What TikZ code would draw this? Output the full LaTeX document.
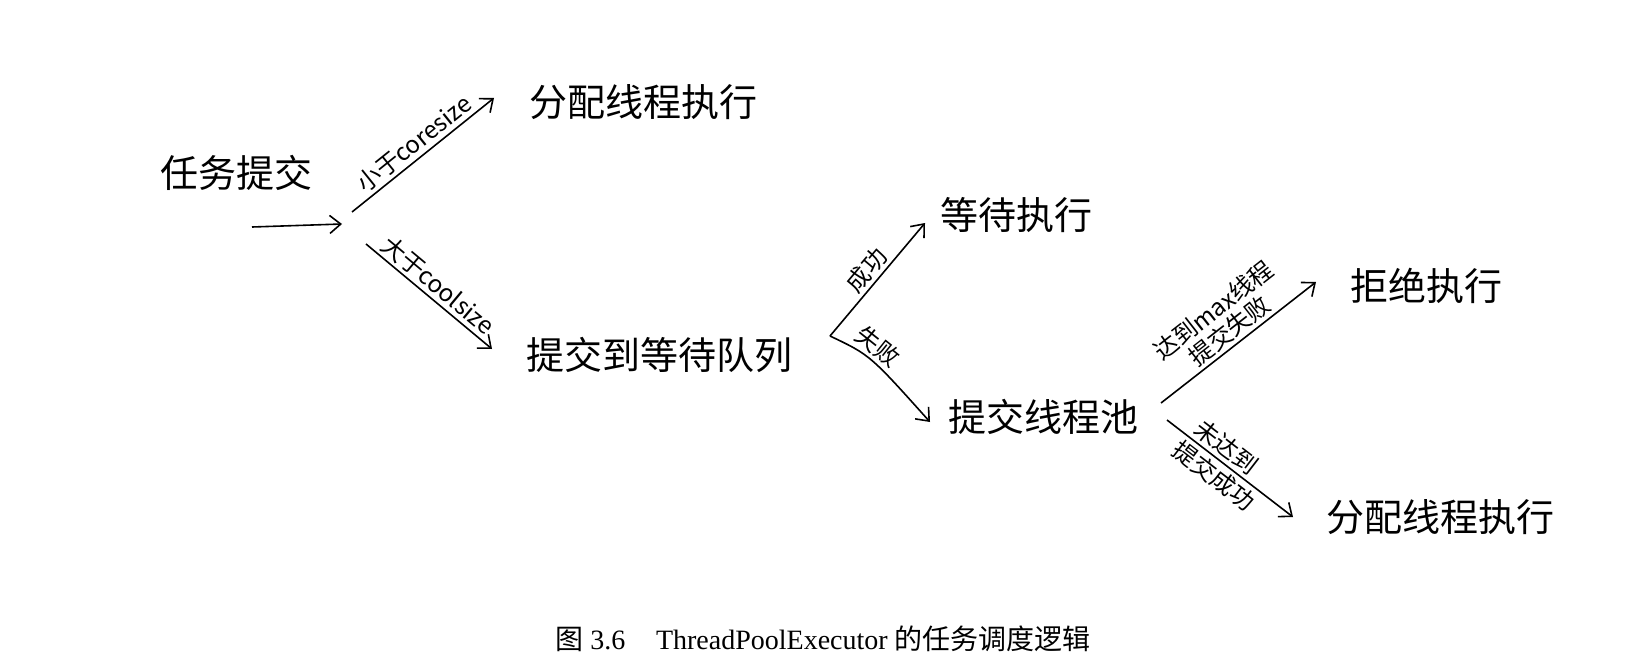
\documentclass[tikz,border=0pt]{standalone}
\usepackage{fontspec}
\setmainfont{Liberation Serif}
\newfontfamily\cjk{Noto Sans CJK SC}
\usetikzlibrary{arrows.meta}
\tikzset{
  big/.style={font=\cjk\fontsize{38}{44}\selectfont, inner sep=2pt},
  lbl/.style={font=\cjk\fontsize{24}{26}\selectfont, inner sep=3pt, sloped},
  conn/.style={line width=1.6pt, -{Straight Barb[length=11pt,width=18pt,line width=1.6pt]}},
}
\begin{document}
\begin{tikzpicture}[x=1pt,y=-1pt]
\useasboundingbox (0,0) rectangle (1648,666);
% nodes
\node[big] (task) at (236,173) {任务提交};
\node[big] (exec1) at (643,102) {分配线程执行};
\node[big] (queue) at (659,355) {提交到等待队列};
\node[big] (wait) at (1016,215) {等待执行};
\node[big] (pool) at (1043,417) {提交线程池};
\node[big] (reject) at (1426,286) {拒绝执行};
\node[big] (exec2) at (1440,517) {分配线程执行};
\node (cap) at (823,639) {\fontsize{28}{32}\selectfont{\cjk 图} 3.6\hspace{1.1em}ThreadPoolExecutor {\cjk 的任务调度逻辑}};
% coordinates
\coordinate (a0) at (252,227);
\coordinate (b1) at (342,224);
\coordinate (u1s) at (352,212);
\coordinate (u1e) at (494,98);
\coordinate (l1s) at (366,244);
\coordinate (l1e) at (492,349);
\coordinate (b2) at (830,336);
\coordinate (u2e) at (925,223);
\coordinate (l2e) at (930,422);
\coordinate (u3s) at (1161,403);
\coordinate (u3e) at (1316,282);
\coordinate (l3s) at (1167,420);
\coordinate (l3e) at (1293,517);
% connectors
\draw[conn] (a0) -- (b1);
\draw[conn] (u1s) -- node[lbl, above] {小于coresize} (u1e);
\draw[conn] (l1s) -- node[lbl, above] {大于coolsize} (l1e);
\draw[conn] (b2) -- node[lbl, above] {成功} (u2e);
\draw[conn] (b2) .. controls (870,355) .. node[lbl, above, pos=0.45] {失败} (l2e);
\draw[conn] (u3s) -- node[lbl, above, align=center, font=\cjk\fontsize{24}{26}\selectfont] {达到max线程\\提交失败} (u3e);
\draw[conn] (l3s) -- node[lbl, above, pos=0.4] {未达到} node[lbl, below, pos=0.45] {提交成功} (l3e);
\end{tikzpicture}
\end{document}
